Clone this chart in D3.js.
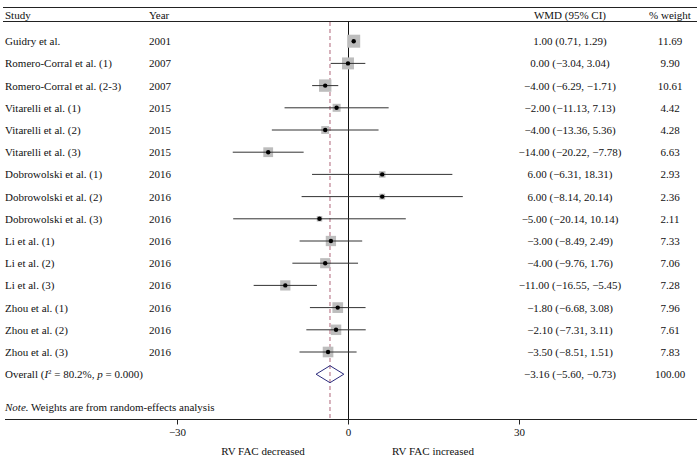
<!DOCTYPE html>
<html><head><meta charset="utf-8">
<script src="https://cdn.jsdelivr.net/npm/d3@7"></script>
<style>
html,body{margin:0;padding:0;background:#fff;}
svg text{font-family:"Liberation Serif","Times New Roman",serif;font-size:11px;fill:#111;}
</style></head>
<body><svg id="c" width="697" height="461"></svg>
<script>
const studies = ["Guidry et al.","Romero-Corral et al. (1)","Romero-Corral et al. (2-3)","Vitarelli et al. (1)","Vitarelli et al. (2)","Vitarelli et al. (3)","Dobrowolski et al. (1)","Dobrowolski et al. (2)","Dobrowolski et al. (3)","Li et al. (1)","Li et al. (2)","Li et al. (3)","Zhou et al. (1)","Zhou et al. (2)","Zhou et al. (3)"];
const years = [2001,2007,2007,2015,2015,2015,2016,2016,2016,2016,2016,2016,2016,2016,2016];
const wmd = [1.00,0.00,-4.00,-2.00,-4.00,-14.00,6.00,6.00,-5.00,-3.00,-4.00,-11.00,-1.80,-2.10,-3.50];
const lower = [0.71,-3.04,-6.29,-11.13,-13.36,-20.22,-6.31,-8.14,-20.14,-8.49,-9.76,-16.55,-6.68,-7.31,-8.51];
const upper = [1.29,3.04,-1.71,7.13,5.36,-7.78,18.31,20.14,10.14,2.49,1.76,-5.45,3.08,3.11,1.51];
const weights = [11.69,9.90,10.61,4.42,4.28,6.63,2.93,2.36,2.11,7.33,7.06,7.28,7.96,7.61,7.83];
const overall = {wmd:-3.16, lower:-5.60, upper:-0.73, weight:100.00};
const xTicks = [-30,0,30];
const axisTitles = ["RV FAC decreased","RV FAC increased"];

const svg = d3.select("#c");
const x = d3.scaleLinear().domain([-30,30]).range([177,519]);
const y = d3.scaleLinear().domain([0,15]).range([41.2,374.2]);
const f2 = v => d3.format(".2f")(v).replace("-","\u2212");
const W = 697;

// horizontal rules
svg.append("line").attr("x1",3).attr("x2",W).attr("y1",7.5).attr("y2",7.5).attr("stroke","#222").attr("stroke-width",1);
svg.append("line").attr("x1",3).attr("x2",W).attr("y1",21.5).attr("y2",21.5).attr("stroke","#222").attr("stroke-width",1);

// headers
const hy = 18.5;
svg.append("text").attr("x",5).attr("y",hy).text("Study");
svg.append("text").attr("x",149).attr("y",hy).text("Year");
svg.append("text").attr("x",570).attr("y",hy).attr("text-anchor","middle").text("WMD (95% CI)");
svg.append("text").attr("x",670).attr("y",hy).attr("text-anchor","middle").text("% weight");

const axisY = 419.5;
// zero line
svg.append("line").attr("x1",x(0)+0.5).attr("x2",x(0)+0.5).attr("y1",21.5).attr("y2",axisY).attr("stroke","#111").attr("stroke-width",1);
// overall dashed line
svg.append("line").attr("x1",x(overall.wmd)).attr("x2",x(overall.wmd)).attr("y1",22).attr("y2",axisY)
  .attr("stroke","#b0667a").attr("stroke-width",1).attr("stroke-dasharray","4,3");

const rows = svg.append("g").selectAll("g").data(studies.map((s,i)=>({s,i}))).join("g");
rows.append("text").attr("x",5).attr("y",d=>y(d.i)+4).text(d=>d.s);
rows.append("text").attr("x",149).attr("y",d=>y(d.i)+4).text(d=>years[d.i]);
rows.append("text").attr("x",570).attr("y",d=>y(d.i)+4).attr("text-anchor","middle")
  .text(d=>`${f2(wmd[d.i])} (${f2(lower[d.i])}, ${f2(upper[d.i])})`);
rows.append("text").attr("x",670).attr("y",d=>y(d.i)+4).attr("text-anchor","middle").text(d=>f2(weights[d.i]));
// boxes
const k = 3.8;
rows.append("rect")
  .attr("x",d=>x(wmd[d.i])-k*Math.sqrt(weights[d.i])/2)
  .attr("y",d=>y(d.i)-k*Math.sqrt(weights[d.i])/2)
  .attr("width",d=>k*Math.sqrt(weights[d.i]))
  .attr("height",d=>k*Math.sqrt(weights[d.i]))
  .attr("fill","#bdbdbd");
rows.append("line").attr("x1",d=>x(lower[d.i])).attr("x2",d=>x(upper[d.i]))
  .attr("y1",d=>y(d.i)).attr("y2",d=>y(d.i)).attr("stroke","#333").attr("stroke-width",1);
rows.append("circle").attr("cx",d=>x(wmd[d.i])).attr("cy",d=>y(d.i)).attr("r",2.2).attr("fill","#000");

// overall row
const oy = y(15);
const ot = svg.append("text").attr("x",5).attr("y",oy+4);
ot.append("tspan").text("Overall (");
ot.append("tspan").attr("font-style","italic").text("I");
ot.append("tspan").attr("font-size","7px").attr("dy",-4).text("2");
ot.append("tspan").attr("dy",4).text(" = 80.2%, ");
ot.append("tspan").attr("font-style","italic").text("p");
ot.append("tspan").text(" = 0.000)");
svg.append("text").attr("x",570).attr("y",oy+4).attr("text-anchor","middle")
  .text(`${f2(overall.wmd)} (${f2(overall.lower)}, ${f2(overall.upper)})`);
svg.append("text").attr("x",670).attr("y",oy+4).attr("text-anchor","middle").text(f2(overall.weight));
const dh = 8.5;
svg.append("path").attr("d",
  `M${x(overall.lower)},${oy} L${x(overall.wmd)},${oy-dh} L${x(overall.upper)},${oy} L${x(overall.wmd)},${oy+dh} Z`)
  .attr("fill","none").attr("stroke","#2b2a7c").attr("stroke-width",1);

// note
const nt = svg.append("text").attr("x",5).attr("y",411);
nt.append("tspan").attr("font-style","italic").text("Note.");
nt.append("tspan").text(" Weights are from random-effects analysis");

// axis
const axis = d3.axisBottom(x).tickValues(xTicks).tickSize(5).tickPadding(4)
  .tickFormat(d=>String(d).replace("-","\u2212"));
const ag = svg.append("g").attr("transform",`translate(0,${axisY})`).call(axis);
ag.select(".domain").remove();
ag.selectAll(".tick line").attr("stroke","#222");
ag.selectAll(".tick text").style("font-family",'"Liberation Serif",serif').style("font-size","11px").attr("fill","#111");
svg.append("line").attr("x1",5).attr("x2",W).attr("y1",axisY).attr("y2",axisY).attr("stroke","#222").attr("stroke-width",1);

svg.append("text").attr("x",263).attr("y",455).attr("text-anchor","middle").text(axisTitles[0]);
svg.append("text").attr("x",433).attr("y",455).attr("text-anchor","middle").text(axisTitles[1]);
</script></body></html>
